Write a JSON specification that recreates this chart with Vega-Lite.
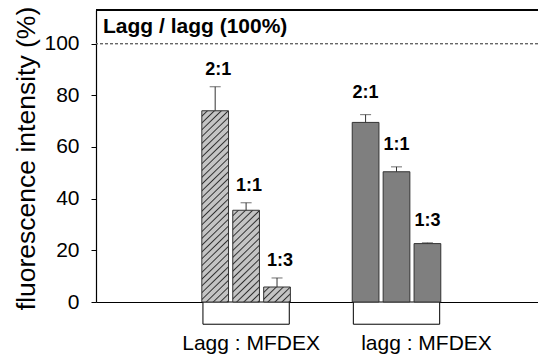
{
  "$schema": "https://vega.github.io/schema/vega-lite/v6.json",
  "autosize": {"type": "none"},
  "padding": {"left": 96, "top": 10, "right": 0, "bottom": 52},
  "width": 442,
  "height": 292,
  "config": {
    "view": {"stroke": null},
    "font": "Liberation Sans",
    "axis": {"labelFont": "Liberation Sans", "titleFont": "Liberation Sans", "labelColor": "#000", "titleColor": "#000"}
  },
  "title": {
    "text": "Lagg / lagg (100%)",
    "anchor": "start",
    "frame": "group",
    "font": "Liberation Sans",
    "fontSize": 21,
    "fontWeight": "bold",
    "color": "#000",
    "baseline": "alphabetic",
    "offset": -48,
    "dx": 7
  },
  "data": {
    "values": [
      {"group": "Lagg", "ratio": "2:1", "value": 74.0, "upper": 83.3},
      {"group": "Lagg", "ratio": "1:1", "value": 35.5, "upper": 38.4},
      {"group": "Lagg", "ratio": "1:3", "value": 5.8, "upper": 9.3},
      {"group": "lagg", "ratio": "2:1", "value": 69.5, "upper": 72.5},
      {"group": "lagg", "ratio": "1:1", "value": 50.4, "upper": 52.3},
      {"group": "lagg", "ratio": "1:3", "value": 22.6, "upper": 22.9}
    ]
  },
  "encoding": {
    "x": {
      "field": "group",
      "type": "nominal",
      "scale": {"domain": ["Lagg", "lagg"], "paddingInner": 0, "paddingOuter": 0.4694, "align": 0.5305},
      "axis": {
        "title": null,
        "ticks": false,
        "domainColor": "#000",
        "domainWidth": 1.2,
        "labelAngle": 0,
        "labelFontSize": 21,
        "labelPadding": 30,
        "labelExpr": "datum.value + ' : MFDEX'",
        "labelOffset": {"condition": {"test": "datum.value === 'lagg'", "value": 30}, "value": 5}
      }
    },
    "xOffset": {
      "field": "ratio",
      "type": "nominal",
      "scale": {"domain": ["2:1", "1:1", "1:3"], "paddingInner": 0.1362, "paddingOuter": 1.0665, "align": 0.5}
    }
  },
  "layer": [
    {
      "data": {"values": [{"group": "Lagg"}, {"group": "lagg"}]},
      "mark": {"type": "bar", "fill": "#fff", "stroke": "#000", "strokeWidth": 1, "width": {"band": 0.574}},
      "encoding": {
        "x": {"field": "group", "type": "nominal"},
        "xOffset": null,
        "y": {"datum": 0, "type": "quantitative"},
        "y2": {"datum": -8.6}
      }
    },
    {
      "mark": {"type": "rule", "stroke": "#666", "strokeDash": [3, 2], "strokeWidth": 1},
      "encoding": {"x": null, "xOffset": null, "y": {"datum": 100, "type": "quantitative"}}
    },
    {
      "mark": {"type": "rule", "stroke": "#000", "strokeWidth": 1.2},
      "encoding": {"x": null, "xOffset": null, "y": {"datum": 113, "type": "quantitative"}}
    },
    {
      "transform": [{"filter": "datum.group === 'Lagg'"}],
      "mark": {"type": "bar", "stroke": "#333", "strokeWidth": 1},
      "encoding": {
        "y": {
          "field": "value",
          "type": "quantitative",
          "scale": {"domain": [0, 113], "nice": false, "zero": true},
          "axis": {
            "values": [0, 20, 40, 60, 80, 100],
            "grid": false,
            "tickSize": 5,
            "tickColor": "#000",
            "domainColor": "#000",
            "domainWidth": 1.2,
            "labelFontSize": 21,
            "labelPadding": 12,
            "title": "fluorescence intensity (%)",
            "titleFontSize": 26.5,
            "titleFontWeight": "normal",
            "titlePadding": 3,
            "titleY": 148
          }
        },
        "fill": {
          "condition": [
            {
              "test": "datum.ratio === '2:1'",
              "value": {
                "gradient": "linear", "x1": 0, "y1": 0, "x2": 0.1517, "y2": 1.1154,
                "stops": [
                  {"offset": 0, "color": "#c4c4c4"},
                  {"offset": 0.01875, "color": "#c4c4c4"}, {"offset": 0.025, "color": "#303030"}, {"offset": 0.03125, "color": "#c4c4c4"},
                  {"offset": 0.05, "color": "#c4c4c4"}, {"offset": 0.05625, "color": "#303030"}, {"offset": 0.0625, "color": "#c4c4c4"},
                  {"offset": 0.08125, "color": "#c4c4c4"}, {"offset": 0.0875, "color": "#303030"}, {"offset": 0.09375, "color": "#c4c4c4"},
                  {"offset": 0.1125, "color": "#c4c4c4"}, {"offset": 0.11875, "color": "#303030"}, {"offset": 0.125, "color": "#c4c4c4"},
                  {"offset": 0.14375, "color": "#c4c4c4"}, {"offset": 0.15, "color": "#303030"}, {"offset": 0.15625, "color": "#c4c4c4"},
                  {"offset": 0.175, "color": "#c4c4c4"}, {"offset": 0.18125, "color": "#303030"}, {"offset": 0.1875, "color": "#c4c4c4"},
                  {"offset": 0.20625, "color": "#c4c4c4"}, {"offset": 0.2125, "color": "#303030"}, {"offset": 0.21875, "color": "#c4c4c4"},
                  {"offset": 0.2375, "color": "#c4c4c4"}, {"offset": 0.24375, "color": "#303030"}, {"offset": 0.25, "color": "#c4c4c4"},
                  {"offset": 0.26875, "color": "#c4c4c4"}, {"offset": 0.275, "color": "#303030"}, {"offset": 0.28125, "color": "#c4c4c4"},
                  {"offset": 0.3, "color": "#c4c4c4"}, {"offset": 0.30625, "color": "#303030"}, {"offset": 0.3125, "color": "#c4c4c4"},
                  {"offset": 0.33125, "color": "#c4c4c4"}, {"offset": 0.3375, "color": "#303030"}, {"offset": 0.34375, "color": "#c4c4c4"},
                  {"offset": 0.3625, "color": "#c4c4c4"}, {"offset": 0.36875, "color": "#303030"}, {"offset": 0.375, "color": "#c4c4c4"},
                  {"offset": 0.39375, "color": "#c4c4c4"}, {"offset": 0.4, "color": "#303030"}, {"offset": 0.40625, "color": "#c4c4c4"},
                  {"offset": 0.425, "color": "#c4c4c4"}, {"offset": 0.43125, "color": "#303030"}, {"offset": 0.4375, "color": "#c4c4c4"},
                  {"offset": 0.45625, "color": "#c4c4c4"}, {"offset": 0.4625, "color": "#303030"}, {"offset": 0.46875, "color": "#c4c4c4"},
                  {"offset": 0.4875, "color": "#c4c4c4"}, {"offset": 0.49375, "color": "#303030"}, {"offset": 0.5, "color": "#c4c4c4"},
                  {"offset": 0.51875, "color": "#c4c4c4"}, {"offset": 0.525, "color": "#303030"}, {"offset": 0.53125, "color": "#c4c4c4"},
                  {"offset": 0.55, "color": "#c4c4c4"}, {"offset": 0.55625, "color": "#303030"}, {"offset": 0.5625, "color": "#c4c4c4"},
                  {"offset": 0.58125, "color": "#c4c4c4"}, {"offset": 0.5875, "color": "#303030"}, {"offset": 0.59375, "color": "#c4c4c4"},
                  {"offset": 0.6125, "color": "#c4c4c4"}, {"offset": 0.61875, "color": "#303030"}, {"offset": 0.625, "color": "#c4c4c4"},
                  {"offset": 0.64375, "color": "#c4c4c4"}, {"offset": 0.65, "color": "#303030"}, {"offset": 0.65625, "color": "#c4c4c4"},
                  {"offset": 0.675, "color": "#c4c4c4"}, {"offset": 0.68125, "color": "#303030"}, {"offset": 0.6875, "color": "#c4c4c4"},
                  {"offset": 0.70625, "color": "#c4c4c4"}, {"offset": 0.7125, "color": "#303030"}, {"offset": 0.71875, "color": "#c4c4c4"},
                  {"offset": 0.7375, "color": "#c4c4c4"}, {"offset": 0.74375, "color": "#303030"}, {"offset": 0.75, "color": "#c4c4c4"},
                  {"offset": 0.76875, "color": "#c4c4c4"}, {"offset": 0.775, "color": "#303030"}, {"offset": 0.78125, "color": "#c4c4c4"},
                  {"offset": 0.8, "color": "#c4c4c4"}, {"offset": 0.80625, "color": "#303030"}, {"offset": 0.8125, "color": "#c4c4c4"},
                  {"offset": 0.83125, "color": "#c4c4c4"}, {"offset": 0.8375, "color": "#303030"}, {"offset": 0.84375, "color": "#c4c4c4"},
                  {"offset": 0.8625, "color": "#c4c4c4"}, {"offset": 0.86875, "color": "#303030"}, {"offset": 0.875, "color": "#c4c4c4"},
                  {"offset": 0.89375, "color": "#c4c4c4"}, {"offset": 0.9, "color": "#303030"}, {"offset": 0.90625, "color": "#c4c4c4"},
                  {"offset": 0.925, "color": "#c4c4c4"}, {"offset": 0.93125, "color": "#303030"}, {"offset": 0.9375, "color": "#c4c4c4"},
                  {"offset": 0.95625, "color": "#c4c4c4"}, {"offset": 0.9625, "color": "#303030"}, {"offset": 0.96875, "color": "#c4c4c4"},
                  {"offset": 0.9875, "color": "#c4c4c4"}, {"offset": 0.99375, "color": "#303030"}, {"offset": 1, "color": "#c4c4c4"}
                ]
              }
            },
            {
              "test": "datum.ratio === '1:1'",
              "value": {
                "gradient": "linear", "x1": 0, "y1": 0, "x2": 0.3368, "y2": 1.188,
                "stops": [
                  {"offset": 0, "color": "#c4c4c4"},
                  {"offset": 0.0353, "color": "#c4c4c4"}, {"offset": 0.0471, "color": "#303030"}, {"offset": 0.0588, "color": "#c4c4c4"},
                  {"offset": 0.0941, "color": "#c4c4c4"}, {"offset": 0.1059, "color": "#303030"}, {"offset": 0.1176, "color": "#c4c4c4"},
                  {"offset": 0.1529, "color": "#c4c4c4"}, {"offset": 0.1647, "color": "#303030"}, {"offset": 0.1765, "color": "#c4c4c4"},
                  {"offset": 0.2118, "color": "#c4c4c4"}, {"offset": 0.2235, "color": "#303030"}, {"offset": 0.2353, "color": "#c4c4c4"},
                  {"offset": 0.2706, "color": "#c4c4c4"}, {"offset": 0.2824, "color": "#303030"}, {"offset": 0.2941, "color": "#c4c4c4"},
                  {"offset": 0.3294, "color": "#c4c4c4"}, {"offset": 0.3412, "color": "#303030"}, {"offset": 0.3529, "color": "#c4c4c4"},
                  {"offset": 0.3882, "color": "#c4c4c4"}, {"offset": 0.4, "color": "#303030"}, {"offset": 0.4118, "color": "#c4c4c4"},
                  {"offset": 0.4471, "color": "#c4c4c4"}, {"offset": 0.4588, "color": "#303030"}, {"offset": 0.4706, "color": "#c4c4c4"},
                  {"offset": 0.5059, "color": "#c4c4c4"}, {"offset": 0.5176, "color": "#303030"}, {"offset": 0.5294, "color": "#c4c4c4"},
                  {"offset": 0.5647, "color": "#c4c4c4"}, {"offset": 0.5765, "color": "#303030"}, {"offset": 0.5882, "color": "#c4c4c4"},
                  {"offset": 0.6235, "color": "#c4c4c4"}, {"offset": 0.6353, "color": "#303030"}, {"offset": 0.6471, "color": "#c4c4c4"},
                  {"offset": 0.6824, "color": "#c4c4c4"}, {"offset": 0.6941, "color": "#303030"}, {"offset": 0.7059, "color": "#c4c4c4"},
                  {"offset": 0.7412, "color": "#c4c4c4"}, {"offset": 0.7529, "color": "#303030"}, {"offset": 0.7647, "color": "#c4c4c4"},
                  {"offset": 0.8, "color": "#c4c4c4"}, {"offset": 0.8118, "color": "#303030"}, {"offset": 0.8235, "color": "#c4c4c4"},
                  {"offset": 0.8588, "color": "#c4c4c4"}, {"offset": 0.8706, "color": "#303030"}, {"offset": 0.8824, "color": "#c4c4c4"},
                  {"offset": 0.9176, "color": "#c4c4c4"}, {"offset": 0.9294, "color": "#303030"}, {"offset": 0.9412, "color": "#c4c4c4"},
                  {"offset": 0.9765, "color": "#c4c4c4"}, {"offset": 0.9882, "color": "#303030"}, {"offset": 1, "color": "#c4c4c4"}
                ]
              }
            }
          ],
          "value": {
            "gradient": "linear", "x1": 0, "y1": 0, "x2": 1.1831, "y2": 0.6826,
            "stops": [
              {"offset": 0, "color": "#c4c4c4"},
              {"offset": 0.1, "color": "#c4c4c4"}, {"offset": 0.1333, "color": "#303030"}, {"offset": 0.1667, "color": "#c4c4c4"},
              {"offset": 0.2667, "color": "#c4c4c4"}, {"offset": 0.3, "color": "#303030"}, {"offset": 0.3333, "color": "#c4c4c4"},
              {"offset": 0.4333, "color": "#c4c4c4"}, {"offset": 0.4667, "color": "#303030"}, {"offset": 0.5, "color": "#c4c4c4"},
              {"offset": 0.6, "color": "#c4c4c4"}, {"offset": 0.6333, "color": "#303030"}, {"offset": 0.6667, "color": "#c4c4c4"},
              {"offset": 0.7667, "color": "#c4c4c4"}, {"offset": 0.8, "color": "#303030"}, {"offset": 0.8333, "color": "#c4c4c4"},
              {"offset": 0.9333, "color": "#c4c4c4"}, {"offset": 0.9667, "color": "#303030"}, {"offset": 1, "color": "#c4c4c4"}
            ]
          }
        }
      }
    },
    {
      "transform": [{"filter": "datum.group === 'lagg'"}],
      "mark": {"type": "bar", "fill": "#7f7f7f", "stroke": "#333", "strokeWidth": 1},
      "encoding": {"y": {"field": "value", "type": "quantitative"}}
    },
    {
      "mark": {"type": "rule", "stroke": "#333", "strokeWidth": 1},
      "encoding": {"y": {"field": "value", "type": "quantitative"}, "y2": {"field": "upper"}}
    },
    {
      "mark": {"type": "tick", "color": "#333", "thickness": 1, "size": 11, "orient": "horizontal"},
      "encoding": {"y": {"field": "upper", "type": "quantitative"}}
    },
    {
      "transform": [{"filter": "datum.group === 'Lagg'"}],
      "mark": {"type": "text", "font": "Liberation Sans", "fontSize": 18, "fontWeight": "bold", "color": "#000", "baseline": "alphabetic", "dy": -12, "dx": 3},
      "encoding": {"y": {"field": "upper", "type": "quantitative"}, "text": {"field": "ratio"}}
    },
    {
      "transform": [{"filter": "datum.group === 'lagg'"}],
      "mark": {"type": "text", "font": "Liberation Sans", "fontSize": 18, "fontWeight": "bold", "color": "#000", "baseline": "alphabetic", "dy": -17},
      "encoding": {"y": {"field": "upper", "type": "quantitative"}, "text": {"field": "ratio"}}
    }
  ]
}
